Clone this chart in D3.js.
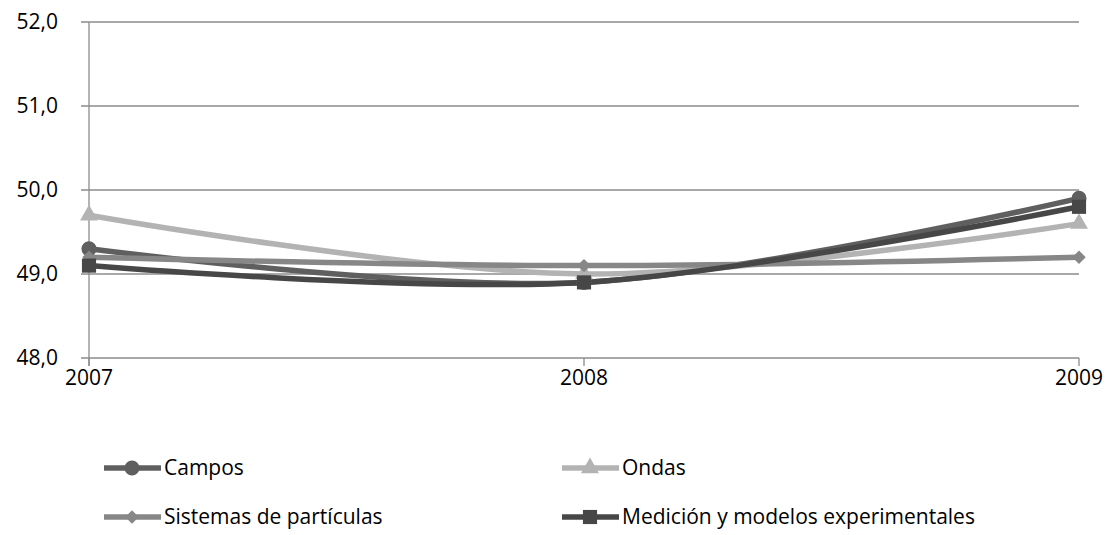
<!DOCTYPE html>
<html><head><meta charset="utf-8">
<script src="https://cdn.jsdelivr.net/npm/d3@7/dist/d3.min.js"></script>
<style>body{margin:0;background:#fff}svg{display:block}text{font-family:"Open Sans","Liberation Sans",Arial,sans-serif;fill:#000}</style>
</head><body><svg id="c" width="1112" height="535"></svg>
<script>
const years = ["2007","2008","2009"];
const yTicks = [48,49,50,51,52];
const campos = [49.3,48.9,49.9];
const ondas = [49.7,49.0,49.6];
const sistemas = [49.2,49.1,49.2];
const medicion = [49.1,48.9,49.8];
const seriesNames = ["Campos","Ondas","Sistemas de partículas","Medición y modelos experimentales"];

const series = [
  {name:seriesNames[0], values:campos, color:"#5f5f5f", marker:"circle"},
  {name:seriesNames[1], values:ondas, color:"#b3b3b3", marker:"triangle"},
  {name:seriesNames[2], values:sistemas, color:"#878787", marker:"diamond"},
  {name:seriesNames[3], values:medicion, color:"#474747", marker:"square"}
];
const svg = d3.select("#c");
const x = d3.scalePoint().domain(years).range([89,1079]);
const y = d3.scaleLinear().domain([48,52]).range([358,22]);
const grid = "#8c8c8c";
svg.append("g").selectAll("line").data(yTicks).join("line")
  .attr("x1",81).attr("x2",1079).attr("y1",d=>y(d)).attr("y2",d=>y(d))
  .attr("stroke",grid).attr("stroke-width",1.3);
svg.append("line").attr("x1",89).attr("x2",89).attr("y1",22).attr("y2",366).attr("stroke",grid).attr("stroke-width",1.3);
svg.append("g").selectAll("line").data(years).join("line")
  .attr("x1",d=>x(d)).attr("x2",d=>x(d)).attr("y1",358).attr("y2",366)
  .attr("stroke",grid).attr("stroke-width",1.3);
svg.append("g").selectAll("text").data(yTicks).join("text")
  .attr("x",58).attr("y",d=>y(d)).attr("dy","0.35em").attr("text-anchor","end")
  .attr("font-size",21).text(d=>d.toFixed(1).replace(".",","));
svg.append("g").selectAll("text").data(years).join("text")
  .attr("x",d=>x(d)).attr("y",378).attr("dy","0.35em").attr("text-anchor","middle")
  .attr("font-size",21).text(d=>d);

const symbolFor = m => ({circle:d3.symbolCircle,triangle:d3.symbolTriangle,diamond:d3.symbolSquare,square:d3.symbolSquare})[m];
const sizeFor = m => ({circle:180,triangle:140,diamond:90,square:200})[m];
const rotFor = m => m==="diamond" ? 45 : 0;
const line = d3.line().x((d,i)=>x(years[i])).y(d=>y(d)).curve(d3.curveCatmullRom.alpha(0));
series.forEach(s=>{
  svg.append("path").attr("d",line(s.values)).attr("fill","none").attr("stroke",s.color).attr("stroke-width",5.5).attr("stroke-linejoin","round");
});
series.forEach(s=>{
  svg.append("g").selectAll("path").data(s.values).join("path")
    .attr("transform",(d,i)=>`translate(${x(years[i])},${y(d)}) rotate(${rotFor(s.marker)})`)
    .attr("d",d3.symbol().type(symbolFor(s.marker)).size(sizeFor(s.marker))())
    .attr("fill",s.color);
});
const legPos = [[104,468],[562,468],[104,517],[562,517]];
series.forEach((s,i)=>{
  const [lx,ly]=legPos[i];
  const g = svg.append("g").attr("transform",`translate(${lx},${ly})`);
  g.append("line").attr("x1",0).attr("x2",57).attr("y1",0).attr("y2",0).attr("stroke",s.color).attr("stroke-width",5.5);
  g.append("path").attr("transform",`translate(28,0) rotate(${rotFor(s.marker)})`).attr("d",d3.symbol().type(symbolFor(s.marker)).size(sizeFor(s.marker))()).attr("fill",s.color);
  g.append("text").attr("x",60).attr("y",0).attr("dy","0.35em").attr("font-size",21).text(s.name);
});
</script></body></html>
